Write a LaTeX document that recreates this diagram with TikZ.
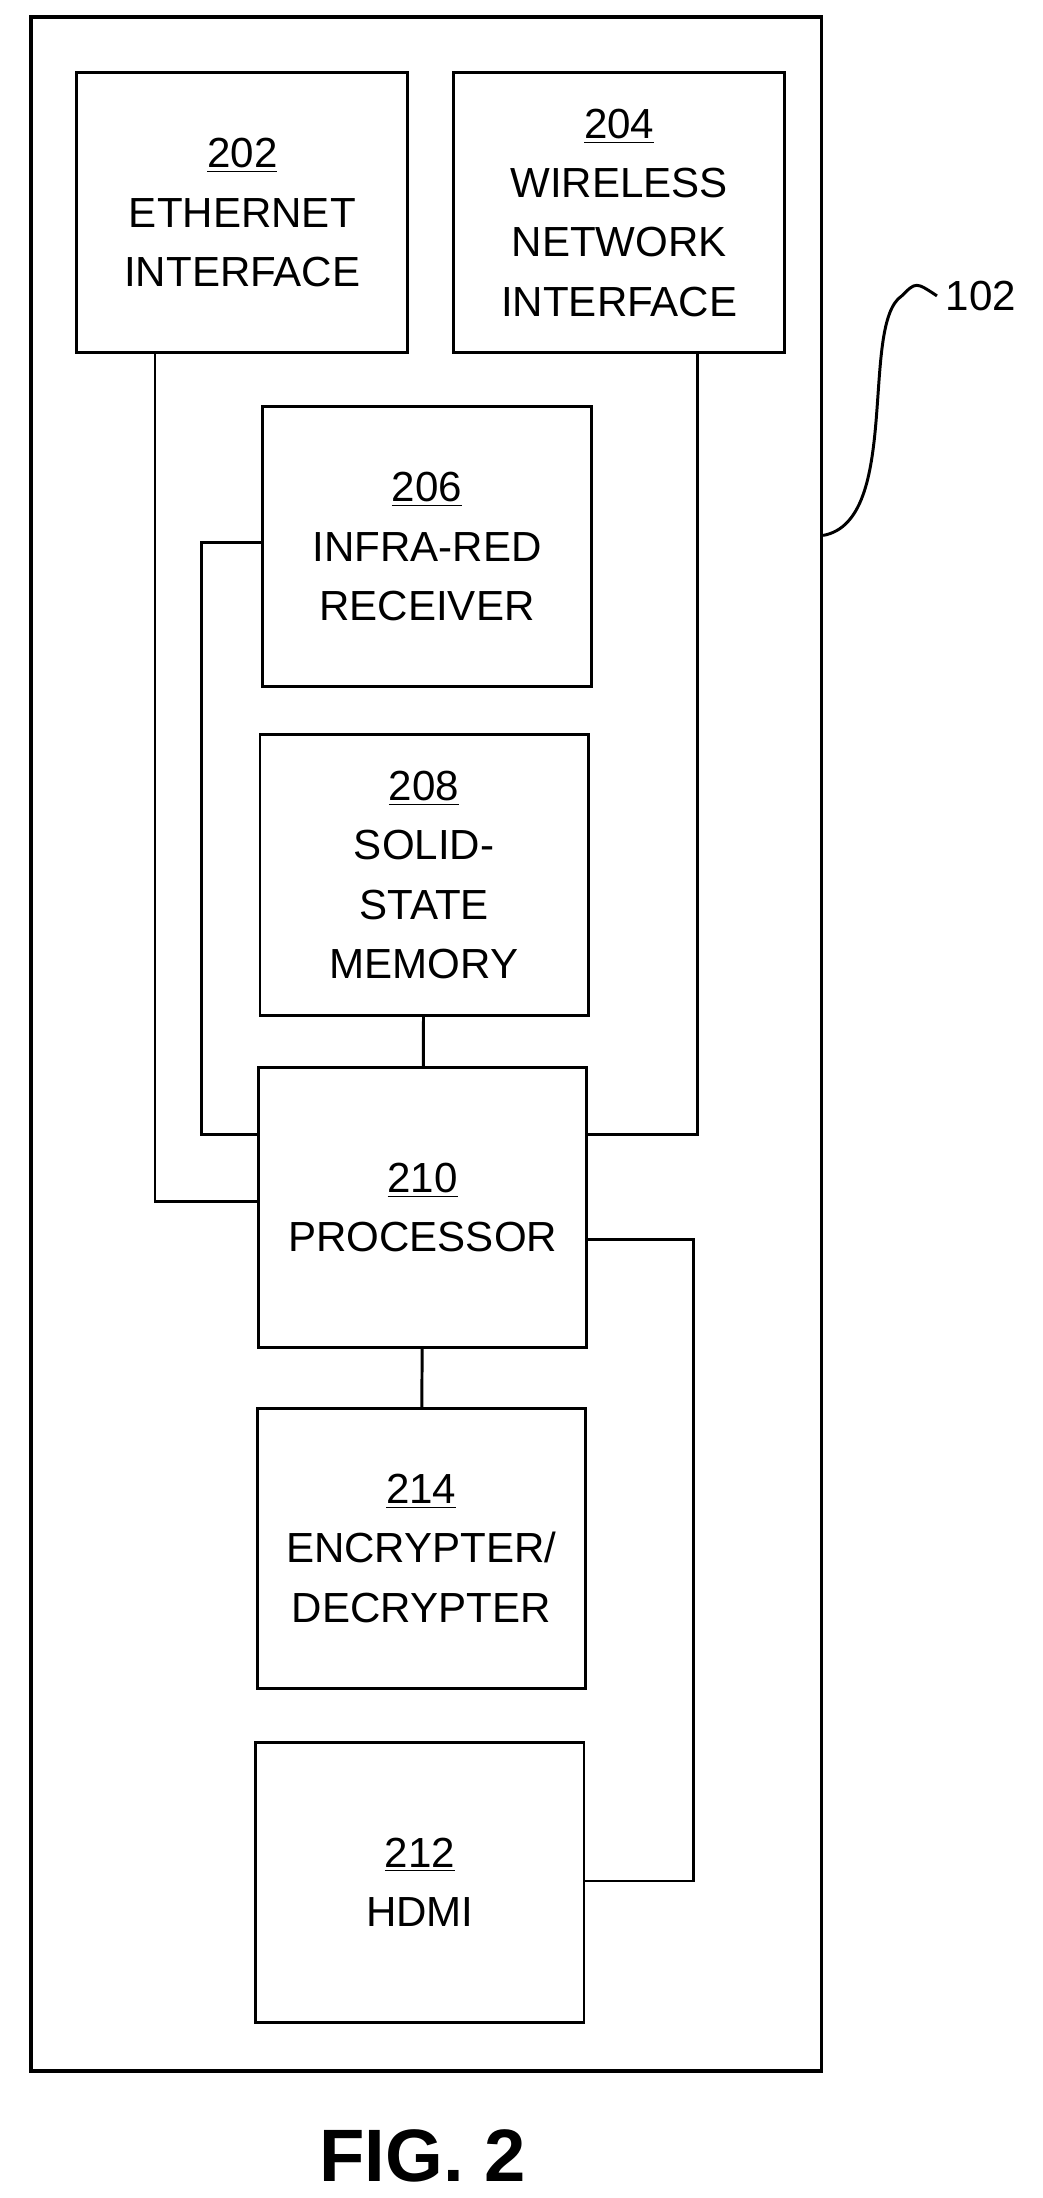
\documentclass[tikz,border=0pt]{standalone}
\usepackage{fontspec}
\setmainfont{Liberation Sans}
\begin{document}
\begin{tikzpicture}[x=0.02cm,y=-0.02cm,
  blk/.style={draw,line width=1.2pt,align=center,font=\fontsize{17}{24}\selectfont,inner sep=0pt,minimum width=4.66cm,minimum height=3.98cm},
  ln/.style={line width=1.2pt}]
\useasboundingbox (0,0) rectangle (740,1560);
\node[draw,line width=1.4pt,minimum width=11.22cm,minimum height=29.16cm,inner sep=0pt] (outer) at (302.5,741) {};
\node[blk,minimum width=4.7cm] (n202) at (172,151) {\underline{202}\\ETHERNET\\INTERFACE};
\node[blk,minimum width=4.7cm] (n204) at (439.5,151) {\underline{204}\\WIRELESS\\NETWORK\\INTERFACE};
\node[blk] (n206) at (303,388) {\underline{206}\\INFRA-RED\\RECEIVER};
\node[blk] (n208) at (301,621) {\underline{208}\\SOLID-\\STATE\\MEMORY};
\node[blk] (n210) at (300,857) {\underline{210}\\PROCESSOR};
\node[blk] (n214) at (299,1099) {\underline{214}\\ENCRYPTER/\\DECRYPTER};
\node[blk] (n212) at (298,1336) {\underline{212}\\HDMI};
\draw[ln] (n202.south -| 110,0) -- (110,853) -- (n210.west |- 0,853);
\draw[ln] (n204.south -| 495,0) -- (495,805) -- (n210.east |- 0,805);
\draw[ln] (n206.west |- 0,385) -- (143,385) -- (143,805) -- (n210.west |- 0,805);
\draw[ln] (n208) -- (n210);
\draw[ln] (n210) -- (n214);
\draw[ln] (n210.east |- 0,880) -- (492,880) -- (492,1335) -- (n212.east |- 0,1335);
\node[font=\fontsize{17}{20}\selectfont,anchor=west] (n102) at (665,210) {102};
\draw[ln] (outer.east |- 0,380) .. controls (640,370) and (610,230) .. (640,210) .. controls (650,200) .. (n102.west);
\node[font=\fontsize{30}{36}\selectfont\bfseries] (fig) at (300,1530) {FIG. 2};
\end{tikzpicture}
\end{document}
